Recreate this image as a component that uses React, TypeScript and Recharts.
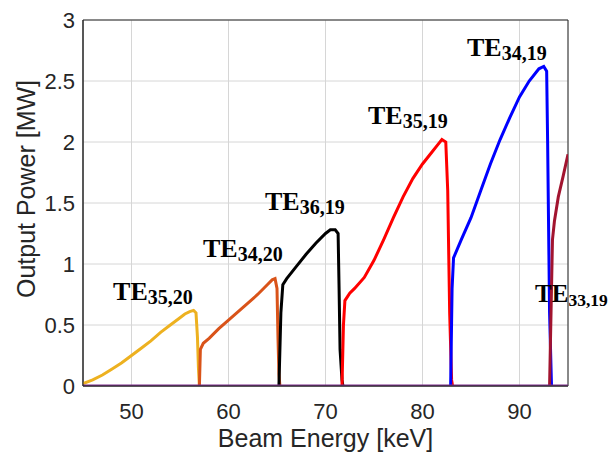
import React from "react";
import {
  CartesianGrid,
  Line,
  LineChart,
  ReferenceArea,
  ReferenceDot,
  XAxis,
  YAxis,
} from "recharts";

// beam energy [keV] vs output power [MW], one array per mode
const te3520 = [
  { e: 45, p: 0.02 }, { e: 46, p: 0.05 }, { e: 47, p: 0.09 }, { e: 48, p: 0.14 },
  { e: 49, p: 0.19 }, { e: 50, p: 0.25 }, { e: 51, p: 0.31 }, { e: 52, p: 0.37 },
  { e: 53, p: 0.44 }, { e: 54, p: 0.5 }, { e: 55, p: 0.56 }, { e: 55.5, p: 0.59 },
  { e: 56, p: 0.61 }, { e: 56.4, p: 0.62 }, { e: 56.65, p: 0.6 }, { e: 56.8, p: 0.4 },
  { e: 56.9, p: 0.15 }, { e: 57.0, p: 0 },
];
const te3420 = [
  { e: 57.0, p: 0 }, { e: 57.1, p: 0.3 }, { e: 57.4, p: 0.35 }, { e: 58, p: 0.39 },
  { e: 59, p: 0.47 }, { e: 60, p: 0.54 }, { e: 61, p: 0.61 }, { e: 62, p: 0.68 },
  { e: 63, p: 0.75 }, { e: 64, p: 0.83 }, { e: 64.5, p: 0.87 }, { e: 64.8, p: 0.88 },
  { e: 65.0, p: 0.8 }, { e: 65.1, p: 0.4 }, { e: 65.2, p: 0.1 }, { e: 65.3, p: 0 },
];
const te3619 = [
  { e: 65.2, p: 0 }, { e: 65.4, p: 0.6 }, { e: 65.6, p: 0.83 }, { e: 66, p: 0.88 },
  { e: 67, p: 0.98 }, { e: 68, p: 1.08 }, { e: 69, p: 1.17 }, { e: 70, p: 1.25 },
  { e: 70.5, p: 1.28 }, { e: 71.0, p: 1.28 }, { e: 71.3, p: 1.25 }, { e: 71.4, p: 0.8 },
  { e: 71.5, p: 0.3 }, { e: 71.7, p: 0.05 }, { e: 71.8, p: 0 },
];
const te3519 = [
  { e: 71.7, p: 0 }, { e: 71.85, p: 0.5 }, { e: 72, p: 0.7 }, { e: 72.5, p: 0.76 },
  { e: 73, p: 0.8 }, { e: 74, p: 0.89 }, { e: 75, p: 1.03 }, { e: 76, p: 1.2 },
  { e: 77, p: 1.38 }, { e: 78, p: 1.55 }, { e: 79, p: 1.7 }, { e: 80, p: 1.82 },
  { e: 81, p: 1.92 }, { e: 81.5, p: 1.97 }, { e: 82, p: 2.02 }, { e: 82.4, p: 2.0 },
  { e: 82.6, p: 1.6 }, { e: 82.8, p: 0.6 }, { e: 83, p: 0.05 }, { e: 83.1, p: 0 },
];
const te3419 = [
  { e: 82.9, p: 0 }, { e: 83.05, p: 0.8 }, { e: 83.2, p: 1.05 }, { e: 84, p: 1.2 },
  { e: 85, p: 1.38 }, { e: 86, p: 1.6 }, { e: 87, p: 1.82 }, { e: 88, p: 2.02 },
  { e: 89, p: 2.2 }, { e: 90, p: 2.37 }, { e: 91, p: 2.5 }, { e: 92, p: 2.6 },
  { e: 92.5, p: 2.62 }, { e: 92.8, p: 2.58 }, { e: 92.9, p: 2.0 }, { e: 93.1, p: 0.6 },
  { e: 93.3, p: 0 },
];
const te3319 = [
  { e: 93.1, p: 0 }, { e: 93.25, p: 0.6 }, { e: 93.4, p: 1.2 }, { e: 93.6, p: 1.35 },
  { e: 94, p: 1.55 }, { e: 94.5, p: 1.72 }, { e: 95, p: 1.9 },
];
const baseline = [{ e: 45, p: 0 }, { e: 95, p: 0 }];

const xTicks = [50, 60, 70, 80, 90];
const yTicks = [0, 0.5, 1, 1.5, 2, 2.5, 3];

// mode labels: subscript and anchor (energy, power)
const modeLabels = [
  { sub: "35,20", e: 48.1, p: 0.705 },
  { sub: "34,20", e: 57.37, p: 1.057 },
  { sub: "36,19", e: 63.76, p: 1.443 },
  { sub: "35,19", e: 74.38, p: 2.148 },
  { sub: "34,19", e: 84.59, p: 2.705 },
  { sub: "33,19", e: 91.6, p: 0.689 },
];

const series = [
  { key: "te3520", data: te3520, color: "#EDB120" },
  { key: "te3420", data: te3420, color: "#D95319" },
  { key: "te3619", data: te3619, color: "#000000" },
  { key: "te3519", data: te3519, color: "#FF0000" },
  { key: "te3419", data: te3419, color: "#0000FF" },
  { key: "te3319", data: te3319, color: "#A2142F" },
  { key: "base", data: baseline, color: "#7E2F8E" },
];

const INK = "#262626";
const SANS = "'Liberation Sans', Arial, Helvetica, sans-serif";
const SERIF = "'Liberation Serif', 'Times New Roman', serif";

function ModeText({
  cx,
  cy,
  sub,
  compact,
}: {
  cx?: number;
  cy?: number;
  sub: string;
  compact?: boolean;
}) {
  if (cx == null || cy == null) return null;
  return (
    <text
      x={cx}
      y={cy}
      fontFamily={SERIF}
      fontWeight="bold"
      fontSize={compact ? 25 : 26}
      fill="#000"
    >
      TE
      <tspan dy={4} fontSize={compact ? 17.5 : 20}>
        {sub}
      </tspan>
    </text>
  );
}

export default function App() {
  return (
    <div style={{ position: "absolute", left: 0, top: 0, width: 612, height: 452, background: "#fff" }}>
      <LineChart
        width={612}
        height={452}
        margin={{ top: 20, right: 44, bottom: 0, left: 0 }}
      >
        <CartesianGrid stroke="#d6d6d6" strokeWidth={1} />
        <XAxis
          type="number"
          dataKey="e"
          domain={[45, 95]}
          ticks={xTicks}
          allowDataOverflow
          height={66}
          tickSize={0}
          tickMargin={17}
          tickLine={false}
          axisLine={{ stroke: INK }}
          tick={{ fontSize: 22, fill: INK, fontFamily: SANS }}
          label={{
            value: "Beam Energy [keV]",
            position: "insideBottom",
            offset: 5,
            fontSize: 25,
            fill: INK,
            fontFamily: SANS,
          }}
        />
        <YAxis
          type="number"
          dataKey="p"
          domain={[0, 3]}
          ticks={yTicks}
          allowDataOverflow
          width={83}
          tickSize={0}
          tickMargin={8}
          tickLine={false}
          axisLine={{ stroke: INK }}
          tick={{ fontSize: 22, fill: INK, fontFamily: SANS }}
          label={{
            content: () => (
              <text
                x={26}
                y={189}
                transform="rotate(-90 26 189)"
                textAnchor="middle"
                dominantBaseline="central"
                fontSize={25}
                fill={INK}
                fontFamily={SANS}
              >
                Output Power [MW]
              </text>
            ),
          }}
        />
        <ReferenceArea x1={45} x2={95} y1={0} y2={3} fill="none" stroke={INK} strokeWidth={1} />
        {series.map((s) => (
          <Line
            key={s.key}
            data={s.data}
            dataKey="p"
            type="linear"
            stroke={s.color}
            strokeWidth={3}
            dot={false}
            activeDot={false}
            isAnimationActive={false}
          />
        ))}
        {modeLabels.map((m, i) => (
          <ReferenceDot
            key={m.sub}
            x={m.e}
            y={m.p}
            r={0}
            shape={(props: any) => (
              <ModeText
                cx={props.cx}
                cy={props.cy}
                sub={m.sub}
                compact={i === modeLabels.length - 1}
              />
            )}
          />
        ))}
      </LineChart>
    </div>
  );
}
